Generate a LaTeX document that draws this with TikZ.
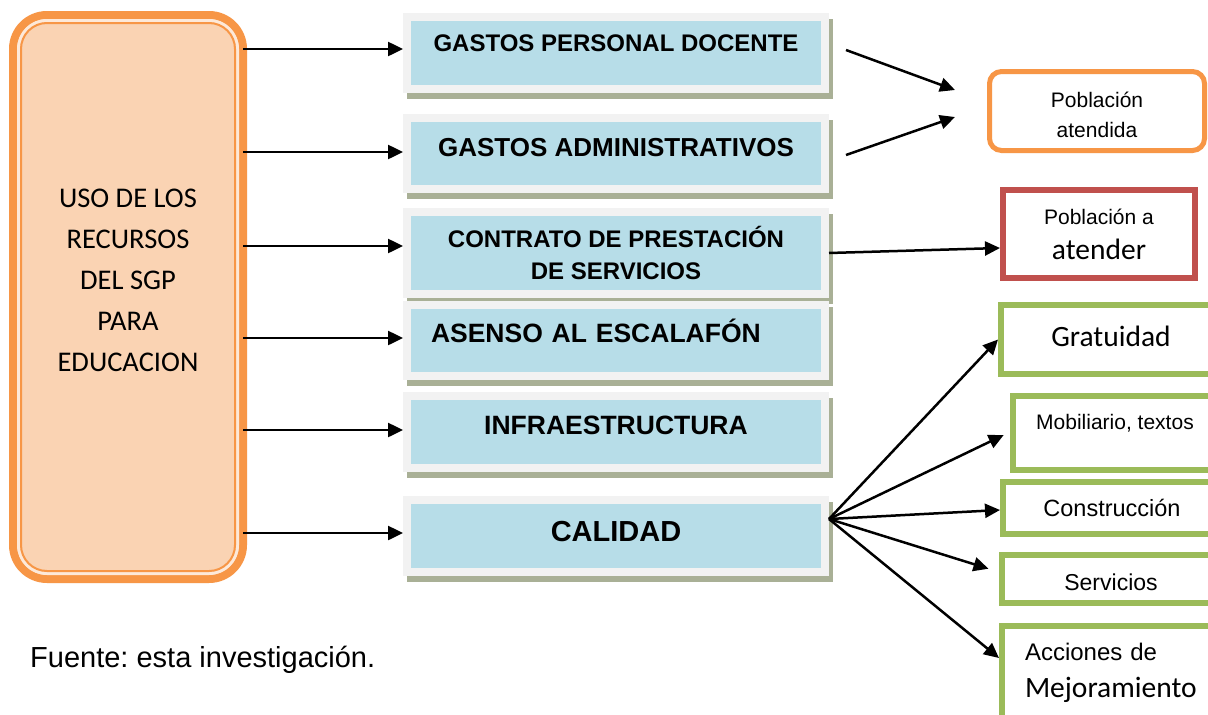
\documentclass[tikz,border=0pt]{standalone}
\usepackage{fontspec}
\setmainfont{Liberation Sans}
\newfontfamily\carlito{Carlito}
\usetikzlibrary{arrows.meta,calc}
\definecolor{orng}{HTML}{F79646}
\definecolor{peach}{HTML}{FAD3B3}
\definecolor{pale}{HTML}{FDE9D9}
\definecolor{lblue}{HTML}{B7DDE8}
\definecolor{framec}{HTML}{F2F2F2}
\definecolor{shad}{HTML}{A9B096}
\definecolor{grn}{HTML}{9BBB59}
\definecolor{rd}{HTML}{C0504D}
\newcommand\fsz[2]{\fontsize{#1}{#2}\selectfont}
\frenchspacing
\begin{document}
\begin{tikzpicture}[x=1pt,y=-1pt,
  arr/.style={line width=2.5pt,-{Triangle[length=15pt,width=14pt]}},
  mbox/.style={draw=framec,line width=8pt,fill=lblue,minimum width=418pt,inner sep=0pt,
    preaction={draw=shad,fill=shad,line width=8pt,transform canvas={xshift=4pt,yshift=-6pt}}},
  gbox/.style={draw=grn,line width=6pt,inner sep=0pt},
  usobox/.style={draw=orng,line width=8pt,fill=peach,rounded corners=34pt,
    minimum width=230pt,minimum height=564pt,outer sep=0pt,inner sep=0pt}]
\useasboundingbox (0,0) rectangle (1208,715);
\clip (0,0) rectangle (1208,715);
\fill[white] (0,0) rectangle (1208,715);

% left box
\node[usobox] (uso) at (128,297) {};
\draw[pale,line width=3pt,rounded corners=28.5pt]
  ([xshift=5.5pt,yshift=-5.5pt]uso.north west) rectangle ([xshift=-5.5pt,yshift=5.5pt]uso.south east);
\draw[orng,line width=2pt,rounded corners=26pt]
  ([xshift=8pt,yshift=-8pt]uso.north west) rectangle ([xshift=-8pt,yshift=8pt]uso.south east);
\node[font=\carlito\fsz{28.5}{41},align=center] (usotxt) at (128,280)
  {USO DE LOS\\RECURSOS\\DEL SGP\\PARA\\EDUCACION};

% middle boxes
\node[mbox,minimum height=72pt,text height=17pt,text depth=20pt,font=\bfseries\fsz{24}{29}] (g1) at (616,53)
  {GASTOS PERSONAL DOCENTE};
\node[mbox,minimum height=71pt,text height=18.6pt,text depth=13pt,font=\bfseries\fsz{26}{31}] (g2) at (616,153.5)
  {GASTOS ADMINISTRATIVOS};
\node[mbox,minimum height=82pt,align=center,font=\bfseries\fsz{24}{32}] (g3) at (616,253)
  {CONTRATO DE PRESTACIÓN\\DE SERVICIOS};
\node[mbox,minimum height=71pt,text height=19pt,text depth=15pt,text width=370pt,align=left,
  font=\bfseries\fsz{26.5}{31}] (g4) at (616,340.5)
  {ASENSO AL ESCALAFÓN};
\node[mbox,minimum height=72pt,text height=19pt,text depth=14pt,font=\bfseries\fsz{26.5}{31}] (g5) at (616,432)
  {INFRAESTRUCTURA};
\node[mbox,minimum height=72pt,text height=20.8pt,text depth=10pt,font=\bfseries\fsz{29}{34}] (g6) at (616,536)
  {CALIDAD};

% left arrows
\draw[arr] ($(g1.west -| uso.east)+(0,-4)$) -- ($(g1.west)+(0,-4)$);
\draw[arr] ($(g2.west -| uso.east)+(0,-1.5)$) -- ($(g2.west)+(0,-1.5)$);
\draw[arr] ($(g3.west -| uso.east)+(0,-7)$) -- ($(g3.west)+(0,-7)$);
\draw[arr] ($(g4.west -| uso.east)+(0,-2.5)$) -- ($(g4.west)+(0,-2.5)$);
\draw[arr] ($(g5.west -| uso.east)+(0,-2)$) -- ($(g5.west)+(0,-2)$);
\draw[arr] ($(g6.west -| uso.east)+(0,-3)$) -- ($(g6.west)+(0,-3)$);

% right: poblacion
\node[draw=orng,line width=5pt,rounded corners=12pt,minimum width=215pt,minimum height=79pt,
  align=center,font=\fsz{21}{30},text height=53pt] (pa) at (1097,111) {Población\\atendida};
\coordinate (t1) at (955,90);
\coordinate (t2) at (955,117);
\draw[arr] ([xshift=17pt,yshift=3pt]g1.east) -- (t1);
\draw[arr] ([xshift=17pt,yshift=-1.5pt]g2.east) -- (t2);

\node[draw=rd,line width=6pt,minimum width=192pt,minimum height=88pt,align=center,
  font=\fsz{21}{35}] (pat) at (1099,234)
  {Población a\\{\carlito\fontsize{29.5}{35}\selectfont atender}};
\draw[arr] (g3.east) -- ([yshift=-14pt]pat.west);

% green boxes
\node[gbox,minimum width=220pt,minimum height=69pt,font=\carlito\fsz{29.5}{34},text height=19pt,text depth=5pt] (grat) at (1111,339.5) {Gratuidad};
\node[gbox,minimum width=204pt,minimum height=74pt,font=\fsz{21}{25},text height=15pt,text depth=22pt] (mob) at (1115,433) {Mobiliario, textos};
\node[gbox,minimum width=218pt,minimum height=52pt,font=\fsz{23.5}{28}] (cons) at (1112,508) {Construcción};
\node[gbox,minimum width=218pt,minimum height=48pt,font=\fsz{23}{28},text height=22pt,text depth=0pt] (serv) at (1111,579) {Servicios};
\node[gbox,minimum width=220pt,minimum height=94pt,text width=174pt,inner xsep=23pt,align=left,
  font=\fsz{24}{37}] (acc) at (1112,673)
  {Acciones de\\{\carlito\fontsize{29.5}{37}\selectfont Mejoramiento}};

\coordinate (cs) at ([yshift=17pt]g6.east);
\draw[arr] (cs) -- (grat.west);
\draw[arr,shorten >=7pt] (cs) -- ([yshift=1pt]mob.west);
\draw[arr] (cs) -- ([yshift=-2pt]cons.west);
\draw[arr,shorten >=11pt] (cs) -- ([yshift=7pt]serv.west);
\draw[arr] (cs) -- ([yshift=15pt]acc.west);

\node[anchor=west,inner sep=0pt,font=\fsz{29}{35}] (src) at (30,660) {Fuente: esta investigación.};
\end{tikzpicture}
\end{document}
